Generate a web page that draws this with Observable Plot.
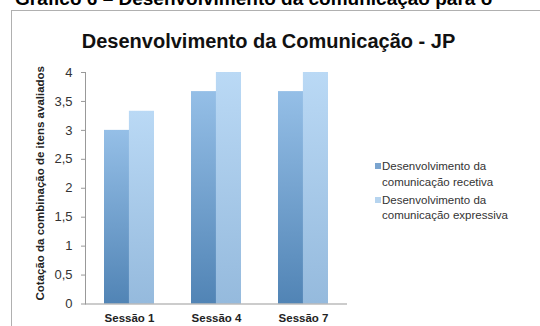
<!DOCTYPE html>
<html><head><meta charset="utf-8">
<script src="https://cdn.jsdelivr.net/npm/d3@7"></script>
<script src="https://cdn.jsdelivr.net/npm/@observablehq/plot@0.6"></script>
<style>
html,body{margin:0;padding:0;background:#fff;}
#wrap{position:relative;width:540px;height:326px;overflow:hidden;background:#fff;font-family:"Liberation Sans",Arial,sans-serif;}
#cap{position:absolute;left:15px;top:-11px;font-size:19px;line-height:19px;font-weight:bold;white-space:nowrap;color:#000;}
#box{position:absolute;left:11px;top:10px;width:600px;height:400px;border:1px solid #b0b0b0;background:#fff;box-sizing:border-box;}
#title{position:absolute;left:0;width:537px;top:31px;text-align:center;font-size:20px;line-height:20px;font-weight:bold;color:#111;}
#chart{position:absolute;left:0;top:0;}
.leg{position:absolute;left:382px;width:150px;font-size:11.5px;line-height:15.5px;color:#333;}
.sw{position:absolute;left:375px;width:6px;height:6px;}
</style></head>
<body>
<div id="wrap">
  <div id="cap"></div>
  <div id="box"></div>
  <div id="title"></div>
  <div id="chart"></div>
</div>
<script>
const captionText = "Gráfico 6 – Desenvolvimento da comunicação para o";
const chartTitle = "Desenvolvimento da Comunicação - JP";
const yLabel = "Cotação da combinação de itens avaliados";
const sessions = ["Sessão 1", "Sessão 4", "Sessão 7"];
const receptiva = [3, 3.67, 3.67];
const expressiva = [3.33, 4, 4];
const seriesNames = ["Desenvolvimento da comunicação recetiva", "Desenvolvimento da comunicação expressiva"];
const yTicks = [0, 0.5, 1, 1.5, 2, 2.5, 3, 3.5, 4];

const recData = sessions.map((s, i) => ({session: s, value: receptiva[i]}));
const expData = sessions.map((s, i) => ({session: s, value: expressiva[i]}));

document.getElementById("cap").textContent = captionText;
document.getElementById("title").textContent = chartTitle;

const defs = () => {
  const d = d3.create("svg:defs");
  const g1 = d.append("linearGradient").attr("id", "gRec").attr("x1", 0).attr("y1", 0).attr("x2", 0).attr("y2", 1);
  g1.append("stop").attr("offset", "0%").attr("stop-color", "#95bfe7");
  g1.append("stop").attr("offset", "100%").attr("stop-color", "#5184b5");
  const g2 = d.append("linearGradient").attr("id", "gExp").attr("x1", 0).attr("y1", 0).attr("x2", 0).attr("y2", 1);
  g2.append("stop").attr("offset", "0%").attr("stop-color", "#bad9f5");
  g2.append("stop").attr("offset", "100%").attr("stop-color", "#95badd");
  return d.node();
};

const chart = Plot.plot({
  width: 540,
  height: 326,
  marginLeft: 85,
  marginRight: 193,
  marginTop: 72,
  marginBottom: 22.5,
  style: {background: "transparent", fontFamily: "Liberation Sans, Arial, sans-serif"},
  x: {domain: sessions, paddingInner: 0.43, paddingOuter: 0.215},
  y: {domain: [0, 4]},
  marks: [
    defs,
    Plot.barY(recData, {x: "session", y: "value", fill: "url(#gRec)", insetLeft: 0, insetRight: 24.9}),
    Plot.barY(expData, {x: "session", y: "value", fill: "url(#gExp)", insetLeft: 24.9, insetRight: 0}),
    Plot.frame({anchor: "left", stroke: "#999"}),
    Plot.ruleY([0], {stroke: "#999"}),
    Plot.axisY({ticks: yTicks, tickSize: 4, tickPadding: 9, fontSize: 13, stroke: "#999", color: "#333",
      tickFormat: d => String(d).replace(".", ","), label: null}),
    Plot.axisX({tickSize: 0, tickPadding: 10, fontSize: 11.5, fontWeight: "bold", color: "#222", label: null}),
    Plot.text([yLabel], {frameAnchor: "left", dx: -45, dy: -5, rotate: -90, fontSize: 11.5, fontWeight: "bold", fill: "#222", textAnchor: "middle", lineAnchor: "middle"})
  ]
});
document.getElementById("chart").appendChild(chart);

const wrap = document.getElementById("wrap");
const swColors = ["#7aa4cf", "#b6d4ef"];
const legTops = [159, 192.6];
const swTops = [162.7, 197.3];
seriesNames.forEach((name, i) => {
  const sw = document.createElement("div");
  sw.className = "sw";
  sw.style.top = swTops[i] + "px";
  sw.style.background = swColors[i];
  wrap.appendChild(sw);
  const t = document.createElement("div");
  t.className = "leg";
  t.style.top = legTops[i] + "px";
  t.textContent = name;
  wrap.appendChild(t);
});
</script>
</body></html>
